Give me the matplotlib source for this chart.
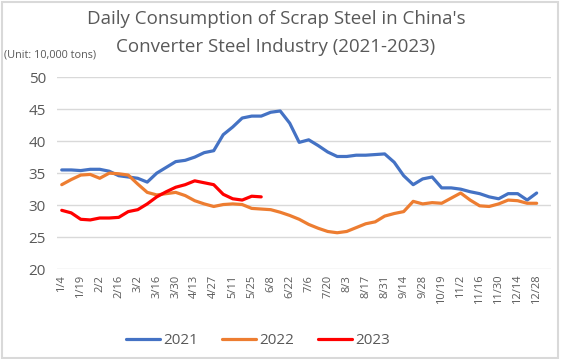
import matplotlib.pyplot as plt
from matplotlib.patches import Rectangle

# x轴标签 (每两周一个标签)
week_labels = ['1/4', '1/19', '2/2', '2/16', '3/2', '3/16', '3/30', '4/13', '4/27',
               '5/11', '5/25', '6/8', '6/22', '7/6', '7/20', '8/3', '8/17', '8/31',
               '9/14', '9/28', '10/19', '11/2', '11/16', '11/30', '12/14', '12/28']

# 各年数据 (万吨)
data_2021 = [35.5, 35.5, 35.4, 35.6, 35.6, 35.3, 34.6, 34.4, 34.2, 33.6,
             35.0, 35.9, 36.8, 37.0, 37.5, 38.2, 38.5, 41.0, 42.2, 43.6,
             43.9, 43.9, 44.5, 44.7, 42.8, 39.8, 40.2, 39.3, 38.3, 37.6,
             37.6, 37.8, 37.8, 37.9, 38.0, 36.7, 34.6, 33.2, 34.1, 34.4,
             32.7, 32.7, 32.5, 32.1, 31.8, 31.3, 31.0, 31.8, 31.8, 30.8, 31.9]
data_2022 = [33.2, 34.0, 34.7, 34.8, 34.2, 35.0, 34.9, 34.7, 33.3, 32.0,
             31.6, 31.8, 32.0, 31.5, 30.7, 30.2, 29.8, 30.1, 30.2, 30.1,
             29.5, 29.4, 29.3, 28.9, 28.4, 27.8, 27.0, 26.4, 25.9, 25.7,
             25.9, 26.5, 27.1, 27.4, 28.3, 28.7, 29.0, 30.6, 30.2, 30.4,
             30.3, 31.1, 31.9, 30.8, 29.9, 29.8, 30.2, 30.8, 30.7, 30.3, 30.3]
data_2023 = [29.2, 28.8, 27.8, 27.7, 28.0, 28.0, 28.1, 29.0, 29.3, 30.2,
             31.3, 32.1, 32.8, 33.2, 33.8, 33.5, 33.2, 31.7, 31.0, 30.8,
             31.4, 31.3]

n_weeks = 52

fig = plt.figure(figsize=(5.61, 3.59), dpi=100)
plt.rcParams['font.family'] = ['Open Sans', 'DejaVu Sans']
ax = fig.add_axes([0.1016, 0.2499, 0.8804, 0.5356])

ax.plot(range(len(data_2021)), data_2021, color='#4472C4', lw=2.3, label='2021',
        solid_joinstyle='round', solid_capstyle='round')
ax.plot(range(len(data_2022)), data_2022, color='#ED7D31', lw=2.3, label='2022',
        solid_joinstyle='round', solid_capstyle='round')
ax.plot(range(len(data_2023)), data_2023, color='#FF0000', lw=2.3, label='2023',
        solid_joinstyle='round', solid_capstyle='round')

ax.set_xlim(-0.5, n_weeks - 0.5)
ax.set_ylim(20, 50)
ax.set_yticks(range(20, 51, 5))
ax.set_xticks(range(0, 2 * len(week_labels), 2))
ax.set_xticklabels(week_labels, rotation=90, fontsize=8, color='#595959')
ax.tick_params(axis='y', labelsize=11, labelcolor='#595959', length=0, pad=8)
ax.tick_params(axis='x', length=0, pad=4)
ax.grid(axis='y', color='#D9D9D9', lw=1)
ax.set_axisbelow(True)
for s in ax.spines.values():
    s.set_visible(False)

# 标题和单位
fig.text(0.492, 0.947, "Daily Consumption of Scrap Steel in China's", ha='center', va='center',
         fontsize=13.5, color='#595959')
fig.text(0.492, 0.869, "Converter Steel Industry (2021-2023)", ha='center', va='center',
         fontsize=13.5, color='#595959')
fig.text(0.007, 0.846, "(Unit: 10,000 tons)", ha='left', va='center', fontsize=7.8, color='#595959')

ax.legend(loc='center', bbox_to_anchor=(0.407, -0.37), ncol=3, frameon=False, fontsize=11,
          handlelength=2.2, handletextpad=0.2, columnspacing=1.6, labelcolor='#595959')

# 外边框
fig.patches.append(Rectangle((0.003, 0.004), 0.992, 0.99, transform=fig.transFigure,
                             fill=False, edgecolor='#D9D9D9', lw=1.5))

plt.savefig('out.png', dpi=100)
